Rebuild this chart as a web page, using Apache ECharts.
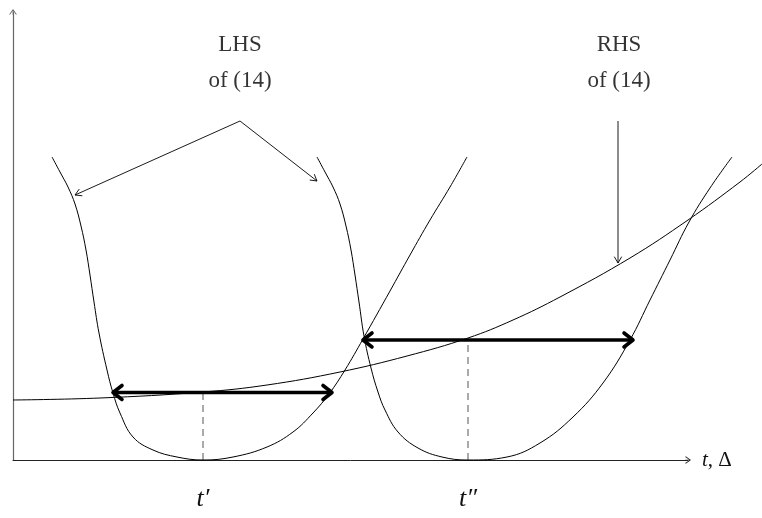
<!DOCTYPE html>
<html>
<head>
<meta charset="utf-8">
<title>LHS / RHS of (14)</title>
<script src="https://cdn.jsdelivr.net/npm/echarts@6/dist/echarts.min.js"></script>
</head>
<body style="margin:0">
<div id="main" style="width:762px;height:518px;"></div>
<script>
// curves as [t, value] pairs
var lhsFirst = [[39,303],[47,288],[55,273],[62,256],[68,234],[73,210],[77,185],[81,158],[86,127],[94,90],[100,67],[107,47],[120,23],[140,10],[164,3],[190,0],
    [220,3],[254,13],[280,28],[300,47],[316,66],[332,90],[350,121],[377,169],[397,205],[417,240],[437,273],[454,303]];
var lhsSecond = [[304,303],[312,288],[320,273],[327,256],[333,234],[338,210],[342,185],[346,158],[351,124],[358,92],[365,68],[372,50],[385,28],[405,12],[429,3],[455,0],
    [494,3],[527,17],[560,43],[590,77],[617,120],[637,160],[657,200],[676,238],[697,272],[719,303]];
var rhsCurve = [[0,60],[87,62],[190,68],[254,75],[327,88],[394,104],[455,122],[500,140],[547,163],[617,202],[675,240],[727,278],[749,296]];

// segments [x1, y1, x2, y2]
var boldArrows = [[100,67.5,319,67.5],[350,120,620,120]];
var pointerArrows = [[227,339,62,265],[227,339,304,279],[605,339,605,197]];
var dashedDrops = [[190,0,190,67.5],[455,0,455,120]];

// annotations
var noteText = ['LHS\nof (14)', 'RHS\nof (14)'];
var noteAt = [[227,397],[606,397]];

// x-axis marks
var tickValues = [190, 455];
var tickLabels = ['t\u2032', 't\u2033'];

var serif = 'Liberation Serif';
var axisArrow = 'path://M0,7 L5,0 L10,7 L9.1,7.7 L5,1.9 L0.9,7.7 Z M4.55,0.6 L5.45,0.6 L5.45,8 L4.55,8 Z';

var chart = echarts.init(document.getElementById('main'));

function segmentRenderer(opts) {
    return function (params, api) {
        var a = api.coord([api.value(0), api.value(1)]);
        var b = api.coord([api.value(2), api.value(3)]);
        var kids = [{
            type: 'line',
            shape: {x1: a[0], y1: a[1], x2: b[0], y2: b[1]},
            style: {stroke: opts.color, lineWidth: opts.width, lineDash: opts.dash || null}
        }];
        function head(tip, from) {
            var dx = tip[0] - from[0], dy = tip[1] - from[1];
            var l = Math.sqrt(dx * dx + dy * dy);
            dx /= l; dy /= l;
            var bx = tip[0] - dx * opts.len, by = tip[1] - dy * opts.len;
            kids.push({
                type: 'polyline',
                shape: {points: [[bx - dy * opts.half, by + dx * opts.half], [tip[0], tip[1]], [bx + dy * opts.half, by - dx * opts.half]]},
                style: {stroke: opts.color, lineWidth: opts.width, fill: null, lineJoin: 'round', lineCap: 'round'}
            });
        }
        if (opts.end) head(b, a);
        if (opts.start) head(a, b);
        return {type: 'group', children: kids};
    };
}

function curve(data) {
    return {
        type: 'line',
        data: data,
        xAxisIndex: 0,
        yAxisIndex: 0,
        smooth: 0.4,
        symbol: 'none',
        clip: false,
        silent: true,
        lineStyle: {color: '#000', width: 1}
    };
}

var hidden = {show: false};

var option = {
    animation: false,
    // grid 0 carries the curves (wide enough for their right ends), grid 1 shows the axes
    grid: [
        {left: 13, right: 0, top: 12, bottom: 58},
        {left: 13, right: 74, top: 12, bottom: 58}
    ],
    xAxis: [
        {gridIndex: 0, type: 'value', min: 0, max: 749, axisLine: hidden, axisTick: hidden, axisLabel: hidden, splitLine: hidden},
        {
            gridIndex: 1,
            type: 'value',
            min: 0,
            max: 675,
            axisLine: {show: true, symbol: ['none', axisArrow], symbolSize: [8, 6], lineStyle: {color: '#222', width: 1}},
            axisTick: hidden,
            splitLine: hidden,
            axisLabel: {
                customValues: tickValues,
                formatter: function (v) { return tickLabels[tickValues.indexOf(v)]; },
                margin: 26,
                fontSize: 26,
                fontStyle: 'italic',
                fontFamily: serif,
                color: '#111'
            },
            name: '{i|t}, \u0394',
            nameLocation: 'end',
            nameGap: 14,
            nameTextStyle: {
                fontSize: 21,
                fontFamily: serif,
                color: '#111',
                rich: {i: {fontSize: 21, fontFamily: serif, fontStyle: 'italic', color: '#111'}}
            }
        }
    ],
    yAxis: [
        {gridIndex: 0, type: 'value', min: 0, max: 448, axisLine: hidden, axisTick: hidden, axisLabel: hidden, splitLine: hidden},
        {
            gridIndex: 1,
            type: 'value',
            min: 0,
            max: 448,
            axisLine: {show: true, symbol: ['none', axisArrow], symbolSize: [8, 6], lineStyle: {color: '#666', width: 1.2}},
            axisTick: hidden,
            splitLine: hidden,
            axisLabel: hidden
        }
    ],
    series: [
        curve(lhsFirst),
        curve(lhsSecond),
        curve(rhsCurve),
        {
            type: 'custom',
            xAxisIndex: 1,
            yAxisIndex: 1,
            data: dashedDrops,
            encode: {x: [0, 2], y: [1, 3]},
            silent: true,
            renderItem: segmentRenderer({color: '#555', width: 1, dash: [7, 5]})
        },
        {
            type: 'custom',
            xAxisIndex: 1,
            yAxisIndex: 1,
            data: boldArrows,
            encode: {x: [0, 2], y: [1, 3]},
            silent: true,
            renderItem: segmentRenderer({color: '#000', width: 3.6, len: 9, half: 7, start: true, end: true})
        },
        {
            type: 'custom',
            xAxisIndex: 1,
            yAxisIndex: 1,
            data: pointerArrows,
            encode: {x: [0, 2], y: [1, 3]},
            silent: true,
            renderItem: segmentRenderer({color: '#000', width: 0.9, len: 6, half: 3.5, end: true})
        },
        {
            type: 'scatter',
            xAxisIndex: 1,
            yAxisIndex: 1,
            data: noteAt,
            symbolSize: 1,
            silent: true,
            itemStyle: {color: 'rgba(0,0,0,0)'},
            label: {
                show: true,
                position: 'inside',
                formatter: function (p) { return noteText[p.dataIndex]; },
                fontSize: 23,
                lineHeight: 36,
                fontFamily: serif,
                color: '#000'
            }
        }
    ]
};

chart.setOption(option);
</script>
</body>
</html>
